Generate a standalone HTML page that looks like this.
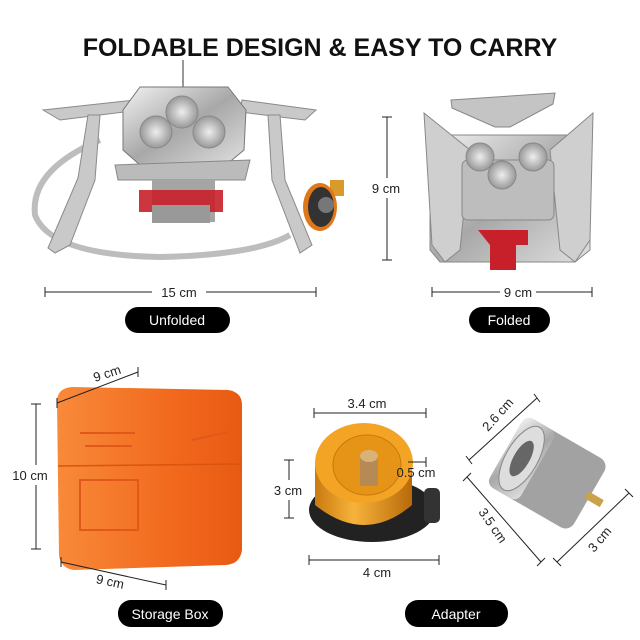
<!DOCTYPE html>
<html><head><meta charset="utf-8"><style>
html,body{margin:0;padding:0;background:#fff}
svg{display:block}
text{font-family:"Liberation Sans",sans-serif}
</style></head><body>
<svg width="640" height="640" viewBox="0 0 640 640" xmlns="http://www.w3.org/2000/svg">
<defs>
<linearGradient id="met" x1="0" y1="0" x2="1" y2="1"><stop offset="0" stop-color="#f2f2f2"/><stop offset=".5" stop-color="#a8a8a8"/><stop offset="1" stop-color="#e0e0e0"/></linearGradient>
<linearGradient id="gold" x1="0" x2="1"><stop offset="0" stop-color="#c97a10"/><stop offset=".4" stop-color="#f7b33a"/><stop offset="1" stop-color="#b86a0a"/></linearGradient>
<linearGradient id="or" x1="0" x2="1"><stop offset="0" stop-color="#f88a3a"/><stop offset=".6" stop-color="#f26a1e"/><stop offset="1" stop-color="#e85a12"/></linearGradient>
<radialGradient id="bur"><stop offset="0" stop-color="#eee"/><stop offset="1" stop-color="#999"/></radialGradient>
</defs>
<text x="320" y="56" text-anchor="middle" font-size="25" font-weight="bold" fill="#111">FOLDABLE DESIGN &amp; EASY TO CARRY</text>

<!-- unfolded stove -->
<path d="M100 140 Q30 170 35 215 Q50 255 160 257 Q255 255 290 235" fill="none" stroke="#bdbdbd" stroke-width="6"/>
<path d="M183 60 V88" stroke="#999" stroke-width="2"/>
<g fill="#c9c9c9" stroke="#8a8a8a">
<path d="M43 110 L135 100 L140 110 L60 120 Z"/>
<path d="M88 115 L100 115 L95 180 L70 245 L55 253 L48 248 L78 178 Z"/>
<path d="M242 100 L316 110 L305 120 L240 112 Z"/>
<path d="M268 115 L280 115 L285 180 L312 245 L300 253 L272 180 Z"/>
</g>
<path d="M140 87 L228 87 L246 110 L244 150 L226 165 L140 165 L123 150 L123 110 Z" fill="url(#met)" stroke="#777"/>
<path d="M115 165 L250 160 L245 180 L118 180 Z" fill="#bbb" stroke="#888"/>
<circle cx="182" cy="112" r="16" fill="url(#bur)" stroke="#888"/><circle cx="156" cy="132" r="16" fill="url(#bur)" stroke="#888"/><circle cx="209" cy="132" r="16" fill="url(#bur)" stroke="#888"/>
<rect x="152" y="180" width="63" height="42" fill="#a5a5a5"/><rect x="139" y="190" width="84" height="22" fill="#c8202a" opacity=".9"/><rect x="152" y="205" width="58" height="18" fill="#999"/>
<rect x="330" y="180" width="14" height="16" fill="#d89a2a"/>
<ellipse cx="320" cy="207" rx="17" ry="24" fill="#e0781a"/><ellipse cx="321" cy="207" rx="13" ry="20" fill="#333"/><circle cx="326" cy="205" r="8" fill="#777"/>

<!-- folded stove -->
<path d="M451 100 L555 93 L553 104 L510 127 L495 127 L452 108 Z" fill="#c4c4c4" stroke="#888"/>
<path d="M430 135 L590 135 L590 250 L575 262 L440 262 L430 250 Z" fill="url(#met)" stroke="#888"/>
<path d="M424 113 L470 150 L460 250 L445 262 L432 245 Z" fill="#cfcfcf" stroke="#888"/>
<path d="M593 113 L550 150 L560 250 L575 262 L590 240 Z" fill="#cfcfcf" stroke="#888"/>
<rect x="462" y="160" width="92" height="60" rx="6" fill="#bdbdbd" stroke="#888"/>
<circle cx="480" cy="157" r="14" fill="url(#bur)" stroke="#888"/><circle cx="533" cy="157" r="14" fill="url(#bur)" stroke="#888"/><circle cx="502" cy="175" r="14" fill="url(#bur)" stroke="#888"/>
<path d="M478 230 L528 230 L528 245 L516 245 L516 270 L490 270 L490 245 Z" fill="#c8202a"/>

<!-- dimension lines top -->
<g stroke="#222" stroke-width="1" fill="none">
<path d="M45 292 H152 M206 292 H316 M45 287 V297 M316 287 V297"/>
<path d="M432 292 H500 M536 292 H592 M432 287 V297 M592 287 V297"/>
<path d="M387 117 V178 M387 198 V260 M382 117 H392 M382 260 H392"/>
</g>
<text x="179" y="297" text-anchor="middle" font-size="13" fill="#222">15 cm</text>
<text x="518" y="297" text-anchor="middle" font-size="13" fill="#222">9 cm</text>
<text x="386" y="193" text-anchor="middle" font-size="13" fill="#222">9 cm</text>
<rect x="125" y="307" width="105" height="26" rx="13" fill="#000"/>
<text x="177" y="325" text-anchor="middle" font-size="14" fill="#fff">Unfolded</text>
<rect x="469" y="307" width="81" height="26" rx="13" fill="#000"/>
<text x="509" y="325" text-anchor="middle" font-size="14" fill="#fff">Folded</text>

<!-- storage box -->
<path d="M57 402 Q57 388 72 387 L228 390 Q242 392 242 405 L242 550 Q240 564 226 565 L74 570 Q60 568 59 555 Z" fill="url(#or)"/>
<path d="M58 466 L242 464" stroke="#d9540e" stroke-width="1.5" fill="none"/>
<g stroke="#e0581a" stroke-width="2" fill="none"><path d="M80 433 H135 M85 446 H132 M192 440 L228 432"/><rect x="80" y="480" width="58" height="50"/></g>
<g stroke="#222" fill="none"><path d="M57 403 L138 372 M57 398 V408 M138 367 V377"/><path d="M36 404 V465 M36 485 V549 M31 404 H41 M31 549 H41"/><path d="M61 562 L166 585 M61 557 V567 M166 580 V590"/></g>
<text x="95" y="382" font-size="13" fill="#222" transform="rotate(-18 95 382)">9 cm</text>
<text x="30" y="480" text-anchor="middle" font-size="13" fill="#222">10 cm</text>
<text x="110" y="586" text-anchor="middle" font-size="13" fill="#222" transform="rotate(12 110 582)">9 cm</text>
<rect x="118" y="600" width="105" height="27" rx="13" fill="#000"/>
<text x="170" y="619" text-anchor="middle" font-size="14" fill="#fff">Storage Box</text>

<!-- gold adapter -->
<ellipse cx="372" cy="510" rx="63" ry="32" fill="#222"/>
<rect x="424" y="488" width="16" height="35" rx="5" fill="#333"/>
<path d="M315 465 V505 Q365 545 412 505 V465 Z" fill="url(#gold)"/>
<ellipse cx="364" cy="463" rx="49" ry="40" fill="#f4a424"/>
<ellipse cx="367" cy="465" rx="34" ry="30" fill="#e59418" stroke="#c77b0e"/>
<rect x="360" y="456" width="18" height="30" fill="#b58a55"/><ellipse cx="369" cy="456" rx="9" ry="6" fill="#d9b27a"/>
<g stroke="#222" fill="none"><path d="M314 413 H426 M314 408 V418 M426 408 V418"/><path d="M289 460 V480 M289 500 V518 M284 460 H294 M284 518 H294"/><path d="M309 560 H439 M309 555 V565 M439 555 V565"/><path d="M408 462 H426 M426 457 V467"/></g>
<text x="367" y="408" text-anchor="middle" font-size="13" fill="#222">3.4 cm</text>
<text x="288" y="495" text-anchor="middle" font-size="13" fill="#222">3 cm</text>
<text x="416" y="477" text-anchor="middle" font-size="13" fill="#222">0.5 cm</text>
<text x="377" y="577" text-anchor="middle" font-size="13" fill="#222">4 cm</text>

<!-- silver adapter -->
<g transform="rotate(30 545 472)">
<rect x="500" y="432" width="96" height="80" rx="10" fill="#a2a2a2"/>
<rect x="500" y="432" width="36" height="80" rx="8" fill="url(#met)"/>
<ellipse cx="518" cy="472" rx="16" ry="36" fill="#ddd" stroke="#888"/>
<ellipse cx="518" cy="472" rx="8" ry="20" fill="#666"/>
<rect x="592" y="467" width="18" height="8" fill="#c9a24a"/>
</g>
<g stroke="#222" fill="none"><path d="M469 460 L537 398 M466 456 L472 464 M534 394 L540 402"/><path d="M467 477 L541 562 M463 481 L471 473 M537 566 L545 558"/><path d="M557 562 L629 493 M553 558 L561 566 M625 489 L633 497"/></g>
<text x="488" y="432" font-size="13" fill="#222" transform="rotate(-48 488 432)">2.6 cm</text>
<text x="478" y="512" font-size="13" fill="#222" transform="rotate(55 478 512)">3.5 cm</text>
<text x="594" y="553" font-size="13" fill="#222" transform="rotate(-50 594 553)">3 cm</text>
<rect x="405" y="600" width="103" height="27" rx="13" fill="#000"/>
<text x="456" y="619" text-anchor="middle" font-size="14" fill="#fff">Adapter</text>
</svg>
</body></html>
